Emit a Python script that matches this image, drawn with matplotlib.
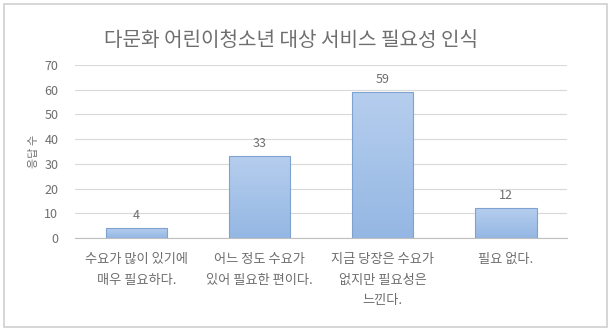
import numpy as np
import matplotlib
matplotlib.use("Agg")
import matplotlib.pyplot as plt
from matplotlib.patches import Rectangle
from matplotlib.colors import LinearSegmentedColormap

plt.rcParams['font.family'] = ['Noto Sans CJK KR', 'DejaVu Sans']

title = "다문화 어린이청소년 대상 서비스 필요성 인식"
categories = ["수요가 많이 있기에\n매우 필요하다.",
              "어느 정도 수요가\n있어 필요한 편이다.",
              "지금 당장은 수요가\n없지만 필요성은\n느낀다.",
              "필요 없다."]
values = [4, 33, 59, 12]
yticks = [0, 10, 20, 30, 40, 50, 60, 70]

text_col = "#6e6e6e"
fig = plt.figure(figsize=(6.1, 3.29), dpi=100)
ax = fig.add_axes([0.123, 0.277, 0.807, 0.525])

# outer frame
fig.add_artist(Rectangle((0.007, 0.006), 0.988, 0.982, transform=fig.transFigure,
                         fill=False, edgecolor="#d0d0d0", linewidth=1.2))

x = np.arange(len(categories))
bars = ax.bar(x, values, width=0.5, color="none", edgecolor="#7fa3d0", linewidth=0.8, zorder=3)

# gradient fill per bar
cmap = LinearSegmentedColormap.from_list("g", ["#94b7e3", "#b6ceee"])
grad = np.linspace(0, 1, 256).reshape(-1, 1)
for b in bars:
    x0, y0 = b.get_x(), b.get_y()
    w, h = b.get_width(), b.get_height()
    ax.imshow(grad, cmap=cmap, aspect="auto", origin="lower",
              extent=[x0, x0 + w, y0, y0 + h], zorder=2)

for xi, v in zip(x, values):
    ax.text(xi, v + 2.5, str(v), ha="center", va="bottom", fontsize=9, color=text_col)

ax.set_xlim(-0.5, len(categories) - 0.5)
ax.set_ylim(0, 70)
ax.set_yticks(yticks)
ax.set_xticks(x)
ax.set_xticklabels(categories, fontsize=9.5, color=text_col, linespacing=1.75, va="top")
ax.tick_params(axis="y", labelsize=9, colors=text_col, length=0, pad=12)
ax.tick_params(axis="x", length=0, pad=11)
ax.grid(axis="y", color="#d9d9d9", linewidth=0.8, zorder=0)
ax.set_axisbelow(True)
for s in ["top", "right", "left"]:
    ax.spines[s].set_visible(False)
ax.spines["bottom"].set_color("#bfbfbf")
ax.set_ylabel("응답 수", fontsize=8, color=text_col, labelpad=4)

fig.text(0.477, 0.878, title, ha="center", va="center", fontsize=14.5, color=text_col)

fig.savefig("out.png", dpi=100)
